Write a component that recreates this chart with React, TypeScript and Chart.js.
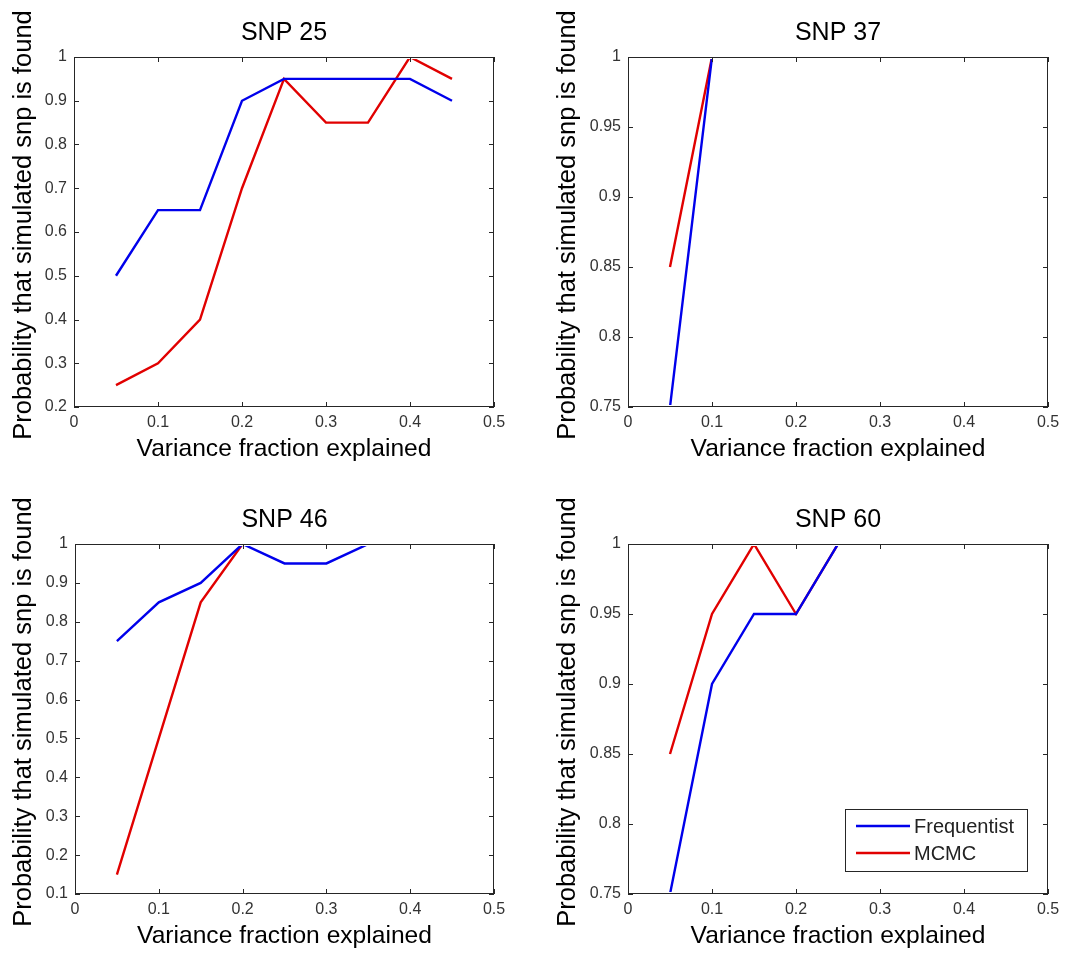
import React, { useEffect, useRef } from "react";
import { Chart, registerables } from "chart.js";

Chart.register(...registerables);

// ---------- data ----------
const xValues = [0.05, 0.1, 0.15, 0.2, 0.25, 0.3, 0.35, 0.4, 0.45];
const seriesNames = ["Frequentist", "MCMC"];

const snp25Freq = [0.5, 0.65, 0.65, 0.9, 0.95, 0.95, 0.95, 0.95, 0.9];
const snp25Mcmc = [0.25, 0.3, 0.4, 0.7, 0.95, 0.85, 0.85, 1.0, 0.95];

const snp37Freq = [0.75, 1, 1, 1, 1, 1, 1, 1, 1];
const snp37Mcmc = [0.85, 1, 1, 1, 1, 1, 1, 1, 1];

const snp46Freq = [0.75, 0.85, 0.9, 1, 0.95, 0.95, 1, 1, 1];
const snp46Mcmc = [0.15, 0.5, 0.85, 1, 1, 1, 1, 1, 1];

const snp60Freq = [0.75, 0.9, 0.95, 0.95, 1, 1, 1, 1, 1];
const snp60Mcmc = [0.85, 0.95, 1, 0.95, 1, 1, 1, 1, 1];

const xAxisTitle = "Variance fraction explained";
const yAxisTitle = "Probability that simulated snp is found";

// ---------- styles ----------
const FONT = '"Liberation Sans", Arial, Helvetica, sans-serif';
const BLUE = "rgb(0,0,235)";
const RED = "rgb(225,0,0)";
const FRAME = "#262626";
const TICK_TEXT = "#333333";
const LINE_W = 2.4;

const W = 534;
const H = 477;

type Panel = {
  title: string;
  freq: number[];
  mcmc: number[];
  yMin: number;
  yMax: number;
  yStep: number;
  legend: boolean;
  posX: number;
  posY: number;
  area: { left: number; top: number; right: number; bottom: number };
  yTitleX: number;
  xTitleY: number;
};

const panels: Panel[] = [
  {
    title: "SNP 25", freq: snp25Freq, mcmc: snp25Mcmc, yMin: 0.2, yMax: 1, yStep: 0.1, legend: false,
    posX: 0, posY: 0, area: { left: 74, top: 57, right: 494, bottom: 407 }, yTitleX: 24, xTitleY: 449,
  },
  {
    title: "SNP 37", freq: snp37Freq, mcmc: snp37Mcmc, yMin: 0.75, yMax: 1, yStep: 0.05, legend: false,
    posX: 534, posY: 0, area: { left: 94, top: 57, right: 514, bottom: 407 }, yTitleX: 34, xTitleY: 449,
  },
  {
    title: "SNP 46", freq: snp46Freq, mcmc: snp46Mcmc, yMin: 0.1, yMax: 1, yStep: 0.1, legend: false,
    posX: 0, posY: 477, area: { left: 75, top: 67, right: 494, bottom: 417 }, yTitleX: 24, xTitleY: 459,
  },
  {
    title: "SNP 60", freq: snp60Freq, mcmc: snp60Mcmc, yMin: 0.75, yMax: 1, yStep: 0.05, legend: true,
    posX: 534, posY: 477, area: { left: 94, top: 67, right: 514, bottom: 417 }, yTitleX: 34, xTitleY: 459,
  },
];

const fmt = (v: number) => String(Math.round(v * 1000) / 1000);

const framePlugin = {
  id: "matlabFrame",
  afterDatasetsDraw(chart: any) {
    const { ctx, chartArea: a, scales } = chart;
    const tl = 5;
    ctx.save();
    ctx.strokeStyle = FRAME;
    ctx.lineWidth = 1;
    ctx.strokeRect(a.left + 0.5, a.top + 0.5, a.right - a.left - 1, a.bottom - a.top - 1);
    ctx.beginPath();
    scales.x.ticks.forEach((t: any) => {
      const px = Math.round(scales.x.getPixelForValue(t.value)) + 0.5;
      ctx.moveTo(px, a.bottom);
      ctx.lineTo(px, a.bottom - tl);
      ctx.moveTo(px, a.top);
      ctx.lineTo(px, a.top + tl);
    });
    scales.y.ticks.forEach((t: any) => {
      const py = Math.round(scales.y.getPixelForValue(t.value)) + 0.5;
      ctx.moveTo(a.left, py);
      ctx.lineTo(a.left + tl, py);
      ctx.moveTo(a.right, py);
      ctx.lineTo(a.right - tl, py);
    });
    ctx.stroke();
    ctx.restore();
  },
};

const yTitlePlugin = {
  id: "matlabYTitle",
  afterDraw(chart: any, _args: any, opts: any) {
    const { ctx, chartArea: a } = chart;
    ctx.save();
    ctx.translate(opts.x, (a.top + a.bottom) / 2 - 7);
    ctx.rotate(-Math.PI / 2);
    ctx.font = `25.5px ${FONT}`;
    ctx.fillStyle = "#000000";
    ctx.textAlign = "center";
    ctx.textBaseline = "middle";
    ctx.fillText(opts.text, 0, 0);
    ctx.restore();
  },
};

const legendPlugin = {
  id: "matlabLegend",
  afterDraw(chart: any) {
    const { ctx, chartArea: a } = chart;
    const boxW = 182;
    const boxH = 62;
    const right = a.right - 21;
    const bottom = a.bottom - 23;
    const left = right - boxW;
    const top = bottom - boxH;
    ctx.save();
    ctx.fillStyle = "#ffffff";
    ctx.fillRect(left, top, boxW, boxH);
    ctx.strokeStyle = FRAME;
    ctx.lineWidth = 1;
    ctx.strokeRect(left + 0.5, top + 0.5, boxW, boxH);
    ctx.font = `20px ${FONT}`;
    ctx.textBaseline = "middle";
    ctx.textAlign = "left";
    chart.data.datasets.forEach((ds: any, i: number) => {
      const y = top + 17 + i * 27;
      ctx.strokeStyle = ds.borderColor;
      ctx.lineWidth = LINE_W;
      ctx.beginPath();
      ctx.moveTo(left + 11, y);
      ctx.lineTo(left + 65, y);
      ctx.stroke();
      ctx.fillStyle = "#222222";
      ctx.fillText(ds.label, left + 69, y + 1);
    });
    ctx.restore();
  },
};

function PanelChart({ p }: { p: Panel }) {
  const ref = useRef<HTMLCanvasElement>(null);
  useEffect(() => {
    if (!ref.current) return;
    const titleFont = 25;
    const titleLH = titleFont * 1.2;
    const titleCenter = p.area.top - 24;
    const titlePadTop = titleCenter - titleLH / 2;
    const titlePadBottom = p.area.top - titlePadTop - titleLH;
    const axisFont = 24.6;
    const axisLH = axisFont * 1.2;
    const chart = new Chart(ref.current, {
      type: "line",
      data: {
        datasets: [
          {
            label: seriesNames[0],
            data: xValues.map((x, i) => ({ x, y: p.freq[i] })),
            borderColor: BLUE,
            backgroundColor: BLUE,
            borderWidth: LINE_W,
            pointRadius: 0,
            tension: 0,
            clip: -2,
          },
          {
            label: seriesNames[1],
            data: xValues.map((x, i) => ({ x, y: p.mcmc[i] })),
            borderColor: RED,
            backgroundColor: RED,
            borderWidth: LINE_W,
            pointRadius: 0,
            tension: 0,
            clip: -2,
          },
        ],
      },
      options: {
        animation: false,
        responsive: false,
        devicePixelRatio: 1,
        layout: { padding: { left: 0, top: 0, bottom: 0, right: W - p.area.right } },
        plugins: {
          legend: { display: false },
          tooltip: { enabled: false },
          title: {
            display: true,
            text: p.title,
            fullSize: false,
            color: "#000000",
            font: { family: FONT, size: titleFont, weight: "normal", lineHeight: 1.2 },
            padding: { top: titlePadTop, bottom: titlePadBottom },
          },
          matlabYTitle: { x: p.yTitleX, text: yAxisTitle },
        },
        scales: {
          x: {
            type: "linear",
            min: 0,
            max: 0.5,
            grid: { display: false, drawTicks: false },
            border: { display: false },
            ticks: {
              stepSize: 0.1,
              padding: 6,
              color: TICK_TEXT,
              font: { family: FONT, size: 16 },
              maxRotation: 0,
              callback: (v: any) => fmt(Number(v)),
            },
            title: {
              display: true,
              text: xAxisTitle,
              color: "#000000",
              font: { family: FONT, size: axisFont, lineHeight: 1.2 },
              padding: { top: 0, bottom: H - p.xTitleY - axisLH / 2 },
            },
            afterFit: (scale: any) => {
              scale.height = H - p.area.bottom;
            },
          },
          y: {
            type: "linear",
            min: p.yMin,
            max: p.yMax,
            grid: { display: false, drawTicks: false },
            border: { display: false },
            ticks: {
              stepSize: p.yStep,
              padding: 7,
              color: TICK_TEXT,
              font: { family: FONT, size: 16 },
              callback: (v: any) => fmt(Number(v)),
            },
            title: { display: false },
            afterFit: (scale: any) => {
              scale.width = p.area.left;
            },
          },
        },
      },
      plugins: p.legend ? [framePlugin, yTitlePlugin, legendPlugin] : [framePlugin, yTitlePlugin],
    } as any);
    return () => chart.destroy();
  }, [p]);
  return (
    <div style={{ position: "absolute", left: p.posX, top: p.posY, width: W, height: H }}>
      <canvas ref={ref} width={W} height={H} style={{ width: W, height: H, display: "block" }} />
    </div>
  );
}

export default function App() {
  return (
    <div style={{ position: "absolute", left: 0, top: 0, width: 1068, height: 954, background: "#ffffff" }}>
      {panels.map((p) => (
        <PanelChart key={p.title} p={p} />
      ))}
    </div>
  );
}
